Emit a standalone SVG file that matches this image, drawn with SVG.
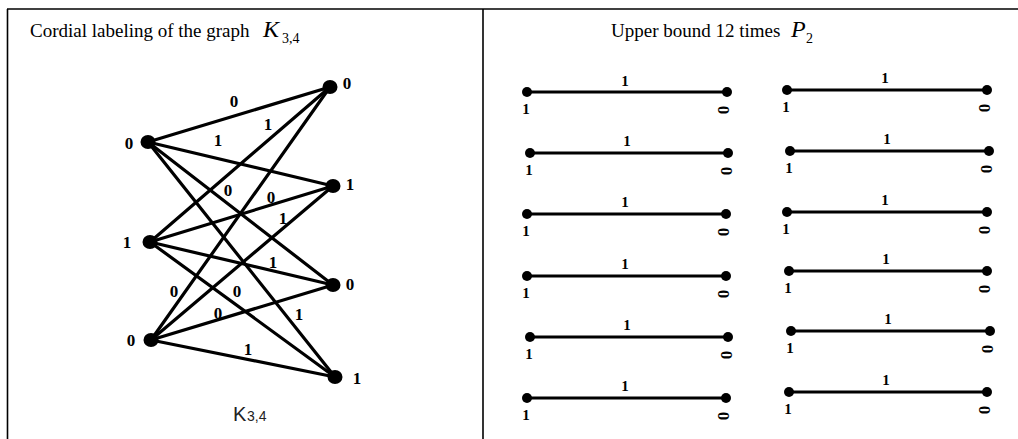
<svg xmlns="http://www.w3.org/2000/svg" width="1018" height="439" viewBox="0 0 1018 439">
<style>
.title{font-family:"Liberation Serif",serif;font-size:19px;fill:#000}
.it{font-family:"Liberation Serif",serif;font-style:italic;font-size:24px;fill:#000}
.sub{font-family:"Liberation Serif",serif;font-size:14px;fill:#000}
.lbl{font-family:"Liberation Serif",serif;font-weight:bold;font-size:17px;fill:#000;text-anchor:middle}
.plbl{font-family:"Liberation Serif",serif;font-weight:bold;font-size:15px;fill:#000;text-anchor:middle}
.z{font-family:"Liberation Serif",serif;font-weight:bold;font-size:17px;fill:#000;text-anchor:middle}
.edge{stroke:#000;stroke-width:3.2;stroke-linecap:round}
.seg{stroke:#000;stroke-width:3}
.border{stroke:#000;stroke-width:1.6;fill:none}
.k{font-family:"Liberation Sans",sans-serif;font-size:20px;fill:#222}
.ks{font-family:"Liberation Sans",sans-serif;font-size:14px;fill:#222}
</style>
<rect width="1018" height="439" fill="#fff"/>
<g id="table">
<line class="border" x1="7" y1="9" x2="1018" y2="9"/>
<line class="border" x1="7.5" y1="9" x2="7.5" y2="439"/>
<line class="border" x1="483" y1="9" x2="483" y2="439"/>
</g>
<g id="title-left">
<text class="title" x="30" y="37">Cordial labeling of the graph</text>
<text class="it" x="263" y="37">K</text>
<text class="sub" x="282" y="43">3,4</text>
</g>
<g id="title-right">
<text class="title" x="611" y="37">Upper bound 12 times</text>
<text class="it" x="791" y="37">P</text>
<text class="sub" x="806" y="43">2</text>
</g>
<g id="connectors">
<line class="edge" x1="148" y1="142" x2="330" y2="87"/>
<line class="edge" x1="148" y1="142" x2="333" y2="186"/>
<line class="edge" x1="148" y1="142" x2="333" y2="285"/>
<line class="edge" x1="148" y1="142" x2="335" y2="377"/>
<line class="edge" x1="150" y1="242" x2="330" y2="87"/>
<line class="edge" x1="150" y1="242" x2="333" y2="186"/>
<line class="edge" x1="150" y1="242" x2="333" y2="285"/>
<line class="edge" x1="150" y1="242" x2="335" y2="377"/>
<line class="edge" x1="151" y1="340" x2="330" y2="87"/>
<line class="edge" x1="151" y1="340" x2="333" y2="186"/>
<line class="edge" x1="151" y1="340" x2="333" y2="285"/>
<line class="edge" x1="151" y1="340" x2="335" y2="377"/>
</g>
<g id="edge-labels">
<text class="lbl" x="234" y="107">0</text>
<text class="lbl" x="268" y="130">1</text>
<text class="lbl" x="218" y="146">1</text>
<text class="lbl" x="228" y="196">0</text>
<text class="lbl" x="271" y="203">0</text>
<text class="lbl" x="283" y="224">1</text>
<text class="lbl" x="273" y="268">1</text>
<text class="lbl" x="174" y="297">0</text>
<text class="lbl" x="237" y="297">0</text>
<text class="lbl" x="218" y="319">0</text>
<text class="lbl" x="299" y="320">1</text>
<text class="lbl" x="248" y="355">1</text>
</g>
<g id="L0"><ellipse cx="148" cy="142" rx="7.5" ry="7"/><text class="lbl" x="129" y="149">0</text></g>
<g id="L1"><ellipse cx="150" cy="242" rx="7.5" ry="7"/><text class="lbl" x="127" y="248">1</text></g>
<g id="L2"><ellipse cx="151" cy="340" rx="7.5" ry="7"/><text class="lbl" x="131" y="346">0</text></g>
<g id="R0"><ellipse cx="330" cy="87" rx="7.5" ry="7"/><text class="lbl" x="347" y="89">0</text></g>
<g id="R1"><ellipse cx="333" cy="186" rx="7.5" ry="7"/><text class="lbl" x="350" y="190">1</text></g>
<g id="R2"><ellipse cx="333" cy="285" rx="7.5" ry="7"/><text class="lbl" x="350" y="290">0</text></g>
<g id="R3"><ellipse cx="335" cy="377" rx="7.5" ry="7"/><text class="lbl" x="357" y="384">1</text></g>
<g id="caption"><text class="k" x="233" y="421">K</text><text class="ks" x="247" y="421">3,4</text></g>
<g id="p2-paths">
<g id="p1"><line class="seg" x1="527" y1="92" x2="727" y2="92"/><circle cx="527" cy="92" r="5"/><circle cx="727" cy="92" r="5"/><text class="plbl" x="625" y="86">1</text><text class="plbl" x="526" y="114">1</text><text class="z" transform="translate(723,110) rotate(90)" y="5">0</text></g>
<g id="p2"><line class="seg" x1="530" y1="153" x2="728" y2="153"/><circle cx="530" cy="153" r="5"/><circle cx="728" cy="153" r="5"/><text class="plbl" x="627" y="146">1</text><text class="plbl" x="529" y="175">1</text><text class="z" transform="translate(726,171) rotate(90)" y="5">0</text></g>
<g id="p3"><line class="seg" x1="527" y1="214" x2="726" y2="214"/><circle cx="527" cy="214" r="5"/><circle cx="726" cy="214" r="5"/><text class="plbl" x="625" y="207">1</text><text class="plbl" x="526" y="236">1</text><text class="z" transform="translate(723,232) rotate(90)" y="5">0</text></g>
<g id="p4"><line class="seg" x1="527" y1="276" x2="726" y2="276"/><circle cx="527" cy="276" r="5"/><circle cx="726" cy="276" r="5"/><text class="plbl" x="625" y="269">1</text><text class="plbl" x="526" y="298">1</text><text class="z" transform="translate(723,294) rotate(90)" y="5">0</text></g>
<g id="p5"><line class="seg" x1="530" y1="337" x2="728" y2="337"/><circle cx="530" cy="337" r="5"/><circle cx="728" cy="337" r="5"/><text class="plbl" x="627" y="330">1</text><text class="plbl" x="529" y="359">1</text><text class="z" transform="translate(726,355) rotate(90)" y="5">0</text></g>
<g id="p6"><line class="seg" x1="527" y1="398" x2="726" y2="398"/><circle cx="527" cy="398" r="5"/><circle cx="726" cy="398" r="5"/><text class="plbl" x="625" y="391">1</text><text class="plbl" x="526" y="420">1</text><text class="z" transform="translate(723,416) rotate(90)" y="5">0</text></g>
<g id="p7"><line class="seg" x1="787" y1="90" x2="987" y2="90"/><circle cx="787" cy="90" r="5"/><circle cx="987" cy="90" r="5"/><text class="plbl" x="885" y="83">1</text><text class="plbl" x="786" y="112">1</text><text class="z" transform="translate(984,108) rotate(90)" y="5">0</text></g>
<g id="p8"><line class="seg" x1="790" y1="151" x2="989" y2="151"/><circle cx="790" cy="151" r="5"/><circle cx="989" cy="151" r="5"/><text class="plbl" x="887" y="144">1</text><text class="plbl" x="789" y="173">1</text><text class="z" transform="translate(986,169) rotate(90)" y="5">0</text></g>
<g id="p9"><line class="seg" x1="787" y1="212" x2="987" y2="212"/><circle cx="787" cy="212" r="5"/><circle cx="987" cy="212" r="5"/><text class="plbl" x="885" y="205">1</text><text class="plbl" x="786" y="234">1</text><text class="z" transform="translate(984,230) rotate(90)" y="5">0</text></g>
<g id="p10"><line class="seg" x1="789" y1="271" x2="987" y2="271"/><circle cx="789" cy="271" r="5"/><circle cx="987" cy="271" r="5"/><text class="plbl" x="886" y="264">1</text><text class="plbl" x="788" y="293">1</text><text class="z" transform="translate(984,289) rotate(90)" y="5">0</text></g>
<g id="p11"><line class="seg" x1="791" y1="331" x2="990" y2="331"/><circle cx="791" cy="331" r="5"/><circle cx="990" cy="331" r="5"/><text class="plbl" x="888" y="324">1</text><text class="plbl" x="790" y="353">1</text><text class="z" transform="translate(987,349) rotate(90)" y="5">0</text></g>
<g id="p12"><line class="seg" x1="789" y1="392" x2="987" y2="392"/><circle cx="789" cy="392" r="5"/><circle cx="987" cy="392" r="5"/><text class="plbl" x="886" y="385">1</text><text class="plbl" x="788" y="414">1</text><text class="z" transform="translate(984,410) rotate(90)" y="5">0</text></g>
</g>
</svg>
